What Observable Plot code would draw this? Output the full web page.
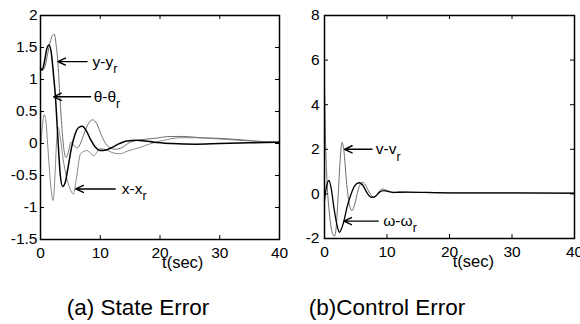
<!DOCTYPE html>
<html>
<head>
<meta charset="utf-8">
<script src="https://cdn.jsdelivr.net/npm/d3@7"></script>
<script src="https://cdn.jsdelivr.net/npm/@observablehq/plot@0.6"></script>
<style>
  html, body { margin: 0; padding: 0; background: #fff; }
  #wrap { position: relative; width: 580px; height: 324px; overflow: hidden; font-family: "Liberation Sans", Arial, sans-serif; }
  .panel { position: absolute; top: 0; }
  .cap { position: absolute; top: 293px; font-size: 22.5px; line-height: 30px; color: #000; white-space: nowrap; transform: translateX(-50%); }
</style>
</head>
<body>
<div id="wrap">
  <div class="panel" id="pa" style="left:0px"></div>
  <div class="panel" id="pb" style="left:290px"></div>
  <div class="cap" style="left:138px">(a) State Error</div>
  <div class="cap" style="left:387px">(b)Control Error</div>
</div>
<script>
// ---------- Axes ----------
const xTicks = [0, 10, 20, 30, 40];
const yTicksA = [-1.5, -1, -0.5, 0, 0.5, 1, 1.5, 2];
const yTicksB = [-2, 0, 2, 4, 6, 8];

// ---------- Data: (a) State Error ----------
const thetaT = [0, 0.3, 0.7, 1.0, 1.4, 1.8, 2.2, 2.5, 2.9, 3.3, 3.7, 4.1, 4.6, 5.2, 5.8, 6.4, 7.0, 7.6, 8.4, 9.2, 10, 11, 12, 13, 14.5, 16, 17.5, 19, 22, 26, 30, 35, 40];
const thetaV = [1.17, 1.15, 1.3, 1.46, 1.54, 1.42, 1.05, 0.73, 0.1, -0.48, -0.67, -0.62, -0.38, -0.06, 0.15, 0.25, 0.27, 0.21, 0.06, -0.06, -0.11, -0.1, -0.06, -0.01, 0.04, 0.05, 0.04, 0.02, 0.0, -0.01, 0.0, 0.01, 0.02];

const yT = [0, 0.4, 0.8, 1.2, 1.6, 2.0, 2.3, 2.6, 2.9, 3.2, 3.5, 3.9, 4.3, 4.7, 5.1, 5.6, 6.1, 6.6, 7.2, 8.0, 8.7, 9.4, 10.2, 10.9, 11.7, 12.5, 13.5, 15, 17, 19, 21.8, 24, 26.8, 30, 34.6, 37, 40];
const yV = [1.2, 1.15, 1.22, 1.4, 1.58, 1.69, 1.71, 1.55, 1.28, 0.8, 0.36, -0.08, -0.22, -0.12, 0.02, -0.03, -0.07, -0.02, 0.13, 0.31, 0.37, 0.31, 0.13, 0.0, -0.07, -0.09, -0.07, 0.02, 0.06, 0.08, 0.11, 0.11, 0.09, 0.08, 0.05, 0.03, 0.02];

const xT = [0, 0.3, 0.6, 0.9, 1.3, 1.7, 2.1, 2.4, 2.7, 2.95, 3.3, 3.8, 4.3, 4.9, 5.5, 6.0, 6.7, 7.8, 8.9, 10, 11, 12.3, 13.4, 14.5, 16.7, 18.5, 20.6, 23.4, 26, 30, 35, 40];
const xV = [-0.1, 0.25, 0.45, 0.35, -0.15, -0.65, -0.89, -0.55, 0.05, 0.25, 0.1, -0.25, -0.5, -0.7, -0.79, -0.55, -0.16, -0.11, -0.19, -0.08, -0.1, -0.15, -0.16, -0.12, -0.06, 0.0, 0.05, 0.09, 0.09, 0.07, 0.04, 0.02];

// ---------- Data: (b) Control Error ----------
const vT = [0, 0.15, 0.4, 0.8, 1.2, 1.6, 1.9, 2.2, 2.5, 2.8, 3.1, 3.5, 4.0, 4.4, 4.8, 5.4, 6.0, 6.5, 7.2, 7.9, 8.5, 9.2, 10, 11, 12, 14, 20, 30, 40];
const vV = [5.0, 2.6, 0.6, -0.9, -1.7, -1.9, -1.4, 0.0, 1.5, 2.32, 1.95, 0.6, -0.5, -0.75, -0.5, 0.2, 0.52, 0.42, 0.05, -0.15, 0.0, 0.22, 0.15, 0.05, 0.08, 0.07, 0.04, 0.04, 0.03];

const wT = [0, 0.3, 0.7, 1.1, 1.5, 2.0, 2.4, 2.8, 3.1, 3.6, 4.2, 4.8, 5.5, 6.1, 6.8, 7.5, 8.1, 8.8, 9.5, 10.3, 11, 13, 20, 30, 40];
const wV = [-0.3, 0.3, 0.6, 0.2, -0.6, -1.4, -1.72, -1.5, -1.22, -0.6, -0.05, 0.35, 0.5, 0.4, 0.05, -0.15, -0.12, 0.08, 0.15, 0.1, 0.07, 0.08, 0.05, 0.05, 0.03];

// annotations: label, subscript, arrow tip t, arrow tail t, text start t, value
const annA = [
  {main: "y-y", sub: "r", tip: 2.9, tail: 7.8, txt: 8.7, v: 1.28},
  {main: "θ-θ", sub: "r", tip: 2.2, tail: 8.4, txt: 8.9, v: 0.73},
  {main: "x-x", sub: "r", tip: 5.9, tail: 12.5, txt: 13.6, v: -0.71}
];
const annB = [
  {main: "v-v", sub: "r", tip: 3.2, tail: 7.6, txt: 8.2, v: 2.0},
  {main: "ω-ω", sub: "r", tip: 3.1, tail: 8.6, txt: 9.4, v: -1.22}
];
const xLabel = "t(sec)";
const xLabelAt = [23.8];

const rows = (T, V) => T.map((t, i) => ({t, v: V[i]}));

function panel({el, width, height, mL, mR, mT, mB, yDomain, yTicks, yPad, series, ann}) {
  const H = height - mT - mB, W = width - mL - mR, tl = 4;
  const fmt = d => String(d);
  const lines = series.map(s => Plot.line(rows(s.T, s.V), {x: "t", y: "v", stroke: s.color, strokeWidth: s.w, curve: "monotone-x"}));
  const svg = Plot.plot({
    width, height, marginLeft: mL, marginRight: mR, marginTop: mT, marginBottom: mB,
    style: {fontFamily: '"Liberation Sans", Arial, sans-serif', fontSize: "15px", color: "#000", background: "#fff", overflow: "visible"},
    x: {domain: [0, 40]},
    y: {domain: yDomain},
    marks: [
      ...lines,
      Plot.ruleX(xTicks, {x: d => d, insetTop: H - tl, stroke: "#000"}),
      Plot.ruleX(xTicks, {x: d => d, insetBottom: H - tl, stroke: "#000"}),
      Plot.ruleY(yTicks, {y: d => d, insetRight: W - tl, stroke: "#000"}),
      Plot.ruleY(yTicks, {y: d => d, insetLeft: W - tl, stroke: "#000"}),
      Plot.frame({stroke: "#000", strokeWidth: 1.5}),
      Plot.axisX(xTicks, {tickSize: 0, tickPadding: 7, label: null, tickFormat: fmt, fontSize: 15.5}),
      Plot.axisY(yTicks, {tickSize: 0, tickPadding: yPad, label: null, tickFormat: fmt, fontSize: 15.5}),
      Plot.text(xLabelAt, {x: d => d, frameAnchor: "bottom", dy: 28, text: () => xLabel, fontSize: 16.5}),
      Plot.arrow(ann, {x1: "tail", x2: "tip", y1: "v", y2: "v", stroke: "#000", strokeWidth: 1.4, headLength: 9, headAngle: 50}),
      Plot.text(ann, {x: "txt", y: "v", text: "main", textAnchor: "start", fontSize: 15.5})
    ]
  });
  const mains = ann.map(a => a.main);
  d3.select(svg).selectAll("text").each(function() {
    const i = mains.indexOf(this.textContent);
    if (i >= 0) {
      d3.select(this).append("tspan").attr("dy", "0.5em").attr("font-size", "12.5px").text(ann[i].sub);
    }
  });
  document.getElementById(el).appendChild(svg);
}

panel({
  el: "pa", width: 290, height: 280, mL: 40, mR: 11, mT: 15, mB: 41,
  yDomain: [-1.5, 2], yTicks: yTicksA, yPad: 3,
  series: [
    {T: xT, V: xV, color: "#8a8a8a", w: 1},
    {T: yT, V: yV, color: "#6e6e6e", w: 1},
    {T: thetaT, V: thetaV, color: "#000", w: 1.5}
  ],
  ann: annA
});
panel({
  el: "pb", width: 290, height: 280, mL: 34, mR: 6, mT: 15, mB: 42,
  yDomain: [-2, 8], yTicks: yTicksB, yPad: 5,
  series: [
    {T: vT, V: vV, color: "#6e6e6e", w: 1},
    {T: wT, V: wV, color: "#000", w: 1.3}
  ],
  ann: annB
});
</script>
</body>
</html>
